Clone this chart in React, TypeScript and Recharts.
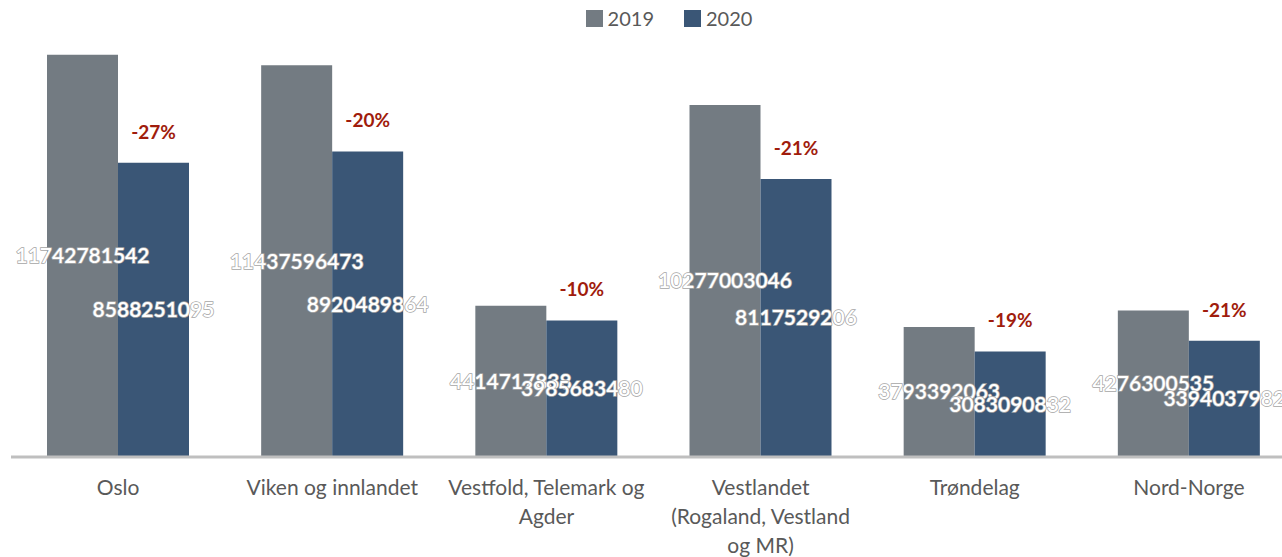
import { Bar, BarChart, LabelList, Legend, XAxis, YAxis } from "recharts";

const regions = [
  "Oslo",
  "Viken og innlandet",
  "Vestfold, Telemark og Agder",
  "Vestlandet (Rogaland, Vestland og MR)",
  "Trøndelag",
  "Nord-Norge",
];
const tickLines = [
  ["Oslo"],
  ["Viken og innlandet"],
  ["Vestfold, Telemark og", "Agder"],
  ["Vestlandet", "(Rogaland, Vestland", "og MR)"],
  ["Trøndelag"],
  ["Nord-Norge"],
];
const values2019 = [11742781542, 11437596473, 4414717838, 10277003046, 3793392063, 4276300535];
const values2020 = [8588251095, 8920489864, 3985683480, 8117529206, 3083090832, 3394037982];
const changes = ["-27%", "-20%", "-10%", "-21%", "-19%", "-21%"];

const data = regions.map((name, i) => ({
  name,
  y2019: values2019[i],
  y2020: values2020[i],
  change: changes[i],
}));

const GREY = "#737b82";
const NAVY = "#3a5676";
const FONT = "Lato, 'Open Sans', sans-serif";

function CategoryTick({ x, y, index }: any) {
  const lines = tickLines[index] ?? [];
  return (
    <text x={x} y={y} textAnchor="middle" fill="#595959" fontSize={21} fontFamily={FONT}>
      {lines.map((l, i) => (
        <tspan key={i} x={x} dy={i === 0 ? 30 : 29}>
          {l}
        </tspan>
      ))}
    </text>
  );
}

function ChangeLabel({ x, y, width, index }: any) {
  return (
    <text
      x={x + width / 2}
      y={y - 24}
      textAnchor="middle"
      fill="#a01c0c"
      fontSize={19}
      fontWeight="bold"
      fontFamily={FONT}
    >
      {changes[index]}
    </text>
  );
}

function LegendBox() {
  const items = [
    { label: "2019", color: GREY },
    { label: "2020", color: NAVY },
  ];
  return (
    <div style={{ display: "flex", justifyContent: "center", gap: 30, fontFamily: FONT, height: 22 }}>
      {items.map((it) => (
        <div key={it.label} style={{ display: "flex", alignItems: "center", gap: 5 }}>
          <span style={{ width: 17, height: 17, background: it.color, display: "inline-block" }} />
          <span style={{ color: "#595959", fontSize: 20 }}>{it.label}</span>
        </div>
      ))}
    </div>
  );
}

const valueLabelStyle = {
  fill: "#ffffff",
  stroke: "#a6a6a6",
  strokeWidth: 1.5,
  paintOrder: "stroke",
  fontSize: 21,
  fontWeight: 600,
  fontFamily: FONT,
} as any;

export default function App() {
  return (
    <div
      style={{
        position: "fixed",
        top: 0,
        left: 0,
        width: 1282,
        height: 557,
        overflow: "hidden",
        background: "#fff",
      }}
    >
      <BarChart
        width={1296}
        height={557}
        data={data}
        margin={{ top: 24, right: 0, left: 11, bottom: 0 }}
        barGap={0}
      >
        <XAxis
          dataKey="name"
          height={100}
          interval={0}
          tickLine={false}
          axisLine={{ stroke: "#bfbfbf", strokeWidth: 3 }}
          tick={<CategoryTick />}
        />
        <YAxis hide domain={[0, 12000000000]} />
        <Legend
          verticalAlign="top"
          height={22}
          content={<LegendBox />}
          wrapperStyle={{ top: 7, left: 28, width: 1282 }}
        />
        <Bar dataKey="y2019" name="2019" fill={GREY} barSize={71} isAnimationActive={false}>
          <LabelList dataKey="y2019" position="center" style={valueLabelStyle} />
        </Bar>
        <Bar dataKey="y2020" name="2020" fill={NAVY} barSize={71} isAnimationActive={false}>
          <LabelList dataKey="y2020" position="center" style={valueLabelStyle} />
          <LabelList dataKey="change" content={<ChangeLabel />} />
        </Bar>
      </BarChart>
    </div>
  );
}
